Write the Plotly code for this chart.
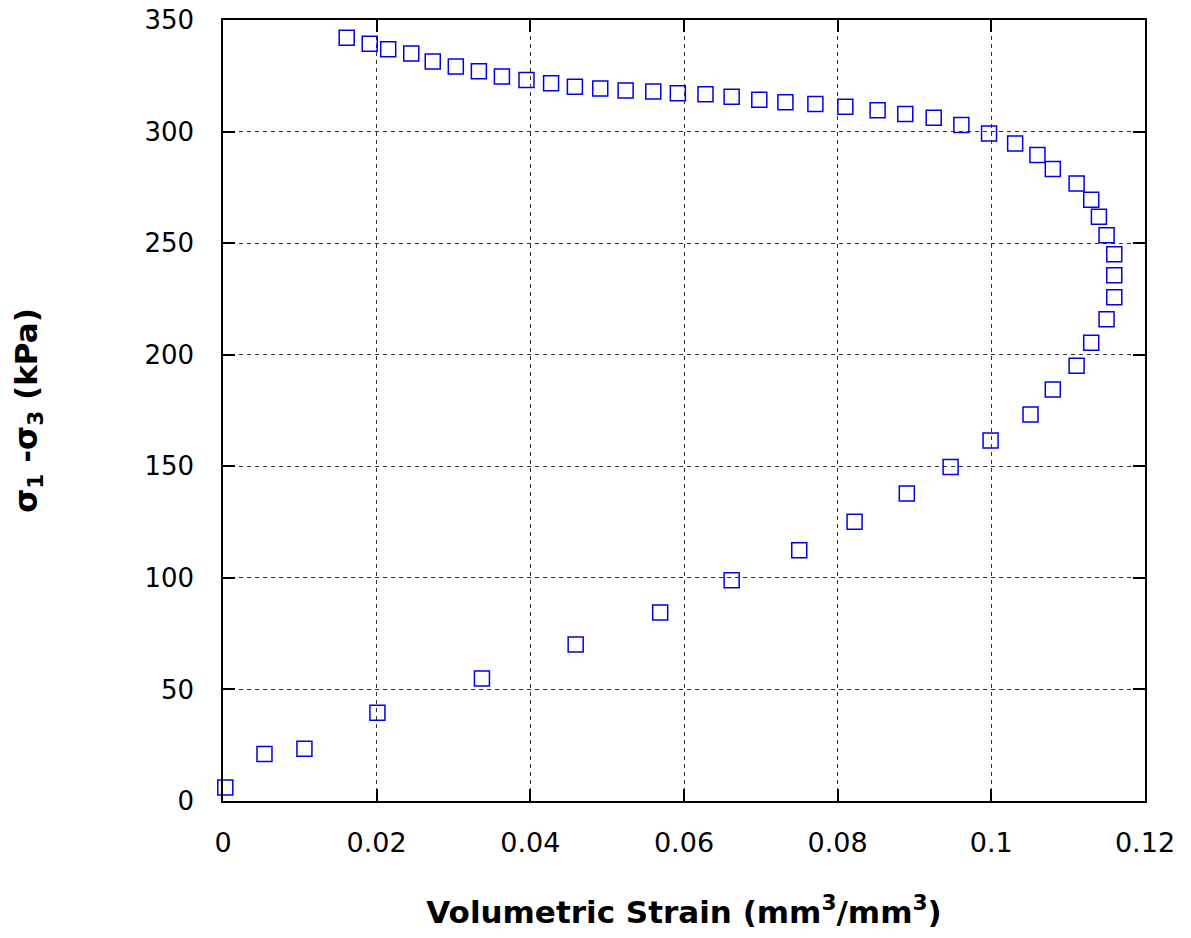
import plotly.graph_objects as go

# Volumetric strain (mm3/mm3) and deviator stress sigma1 - sigma3 (kPa)
strain = [0.0003, 0.0054, 0.0106, 0.0201, 0.0337, 0.0459, 0.0569, 0.0662, 0.0750, 0.0822,
          0.0890, 0.0947, 0.0999, 0.1051, 0.1080, 0.1111, 0.1130, 0.1150, 0.1160, 0.1160,
          0.1160, 0.1150, 0.1140, 0.1130, 0.1111, 0.1080, 0.1060, 0.1031, 0.0997, 0.0961,
          0.0925, 0.0888, 0.0852, 0.0810, 0.0771, 0.0732, 0.0698, 0.0662, 0.0628, 0.0592,
          0.0560, 0.0524, 0.0491, 0.0458, 0.0427, 0.0395, 0.0363, 0.0333, 0.0303, 0.0273,
          0.0245, 0.0215, 0.0191, 0.0161]
stress = [6.0, 21.1, 23.4, 39.5, 54.9, 70.1, 84.5, 98.9, 112.4, 125.2,
          137.8, 149.7, 161.6, 173.2, 184.4, 195.0, 205.4, 215.9, 225.7, 235.6,
          245.0, 253.5, 261.8, 269.5, 276.7, 283.2, 289.5, 294.7, 299.1, 303.0,
          306.2, 307.9, 309.5, 311.1, 312.3, 313.1, 314.3, 315.6, 316.7, 317.2,
          318.0, 318.4, 319.3, 320.1, 321.6, 323.1, 324.7, 327.0, 329.2, 331.4,
          335.0, 336.9, 339.4, 342.1]

x_ticks = [0, 0.02, 0.04, 0.06, 0.08, 0.1, 0.12]
y_ticks = [0, 50, 100, 150, 200, 250, 300, 350]

fig = go.Figure()
fig.add_trace(go.Scatter(
    x=strain, y=stress, mode="markers",
    marker=dict(symbol="square-open", size=15, color="#0000ee",
                line=dict(width=1.5, color="#0000ee")),
    cliponaxis=False, showlegend=False,
))

axis_common = dict(
    showline=True, linecolor="black", linewidth=1.5, mirror="ticks",
    ticks="inside", ticklen=12, tickcolor="black", tickwidth=1.5,
    showgrid=True, gridcolor="#333333", gridwidth=1, griddash="4px,4px",
    zeroline=False, automargin=False, ticklabeloverflow="allow",
)

fig.update_xaxes(
    range=[0, 0.12], tickvals=x_ticks, ticktext=[str(v) if v else "0" for v in x_ticks],
    tickfont=dict(family="DejaVu Sans", size=27, color="black"),
    ticklabelstandoff=17,
    title=dict(text="Volumetric Strain (mm<sup>3</sup>/mm<sup>3</sup>)",
               font=dict(family="DejaVu Sans", size=31, color="black", weight="bold"),
               standoff=44),
    **axis_common,
)
fig.update_yaxes(
    range=[0, 350], tickvals=y_ticks,
    tickfont=dict(family="DejaVu Sans", size=26, color="black"),
    ticklabelstandoff=22,
    title=dict(text="σ<sub>1</sub> -σ<sub>3</sub> (kPa)",
               font=dict(family="DejaVu Sans", size=31, color="black", weight="bold"),
               standoff=98),
    **axis_common,
)

fig.update_layout(
    width=1191, height=938,
    margin=dict(l=223, r=46, t=20, b=137),
    plot_bgcolor="white", paper_bgcolor="white",
)

# remove the default 8px page margin so the figure fills the window exactly
fig.write_html("out.html", config={"displayModeBar": False},
               post_script="document.body.style.margin='0';document.body.style.overflow='hidden';")
